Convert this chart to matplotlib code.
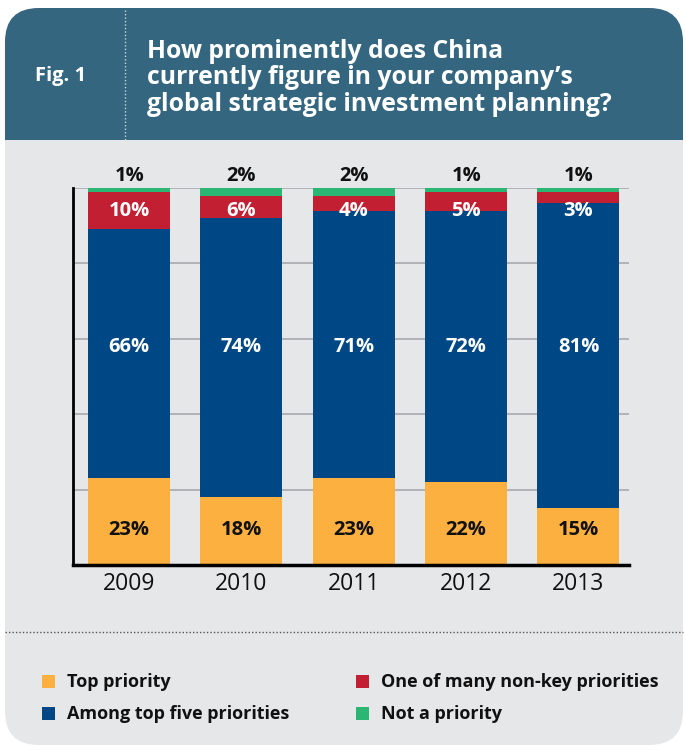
# stacked bar chart: China's place in global investment planning, 2009-2013
import matplotlib.pyplot as plt
from matplotlib.patches import FancyBboxPatch, Rectangle

# survey shares (%) per year
years = ['2009', '2010', '2011', '2012', '2013']
top_priority = [23, 18, 23, 22, 15]
top_five = [66, 74, 71, 72, 81]
non_key = [10, 6, 4, 5, 3]
not_priority = [1, 2, 2, 1, 1]

series_names = ['Top priority', 'Among top five priorities',
                'One of many non-key priorities', 'Not a priority']
colors = ['#fbb040', '#004785', '#c21f32', '#2bb673']

header_col = '#34667f'
panel_col = '#e6e7e9'
font = 'Open Sans'

fig = plt.figure(figsize=(6.86, 7.51), dpi=100)
fig.patch.set_facecolor('white')

# background axes in pixel coords for the card
bg = fig.add_axes([0, 0, 1, 1])
bg.set_xlim(0, 686)
bg.set_ylim(751, 0)
bg.axis('off')

card = FancyBboxPatch((5, 8), 678, 737, boxstyle='round,pad=0,rounding_size=34',
                      fc=panel_col, ec='none')
bg.add_patch(card)
head = Rectangle((0, 0), 686, 140, fc=header_col, ec='none')
bg.add_patch(head)
head.set_clip_path(card)

bg.plot([125, 125], [10, 140], color='#c9d6de', lw=1, ls=(0, (1, 1.5)))
bg.plot([5, 683], [632, 632], color='#555555', lw=1, ls=(0, (1, 1.5)))

bg.text(35, 76, 'Fig. 1', color='white', fontsize=14.5, fontweight='bold',
        family=font, va='center')
bg.text(147, 78, "How prominently does China\ncurrently figure in your company\u2019s\n"
        "global strategic investment planning?", color='white', fontsize=17.8,
        fontweight='bold', family=font, va='center', linespacing=1.08)

# legend laid out in two columns
leg_pos = [(43, 682), (43, 714), (357, 682), (357, 714)]
for (lx, ly), name, c in zip(leg_pos, series_names, colors):
    bg.add_patch(Rectangle((lx - 1, ly - 7), 13, 13, fc=c, ec='none'))
    bg.text(lx + 24, ly, name, fontsize=13, fontweight='bold', family=font,
            va='center', color='#111111')

# the chart itself
ax = fig.add_axes([73 / 686, 186 / 751, 556 / 686, 377 / 751])
ax.set_facecolor('none')
x = list(range(len(years)))
w = 0.73
bottom = [0] * len(years)
for vals, c in zip([top_priority, top_five, non_key, not_priority], colors):
    ax.bar(x, vals, w, bottom=bottom, color=c, zorder=3)
    bottom = [b + v for b, v in zip(bottom, vals)]

ax.set_xlim(-0.5, 4.45)
ax.set_ylim(0, 100)
ax.set_yticks([20, 40, 60, 80, 100])
ax.yaxis.grid(True, color='#a7a9ac', lw=1.2, zorder=0)
ax.tick_params(axis='y', length=0, labelleft=False)
ax.tick_params(axis='x', length=0, pad=5)
ax.set_xticks(x)
ax.set_xticklabels(years, fontsize=16.5, family=font, color='#111111')
for s in ['top', 'right']:
    ax.spines[s].set_visible(False)
ax.spines['left'].set_linewidth(2)
ax.spines['bottom'].set_linewidth(2.5)
ax.spines['left'].set_zorder(4)
ax.spines['bottom'].set_zorder(4)

# value labels
lab = dict(ha='center', va='center', fontsize=14.5, fontweight='bold',
           family=font, zorder=5)
for i in x:
    ax.text(i, 9.3, f'{top_priority[i]}%', color='#111111', **lab)
    ax.text(i, 57.8, f'{top_five[i]}%', color='white', **lab)
    ax.text(i, 94, f'{non_key[i]}%', color='white', **lab)
    ax.text(i, 103.2, f'{not_priority[i]}%', color='#111111', clip_on=False, **lab)

fig.savefig('out.png', dpi=100, facecolor='white')
